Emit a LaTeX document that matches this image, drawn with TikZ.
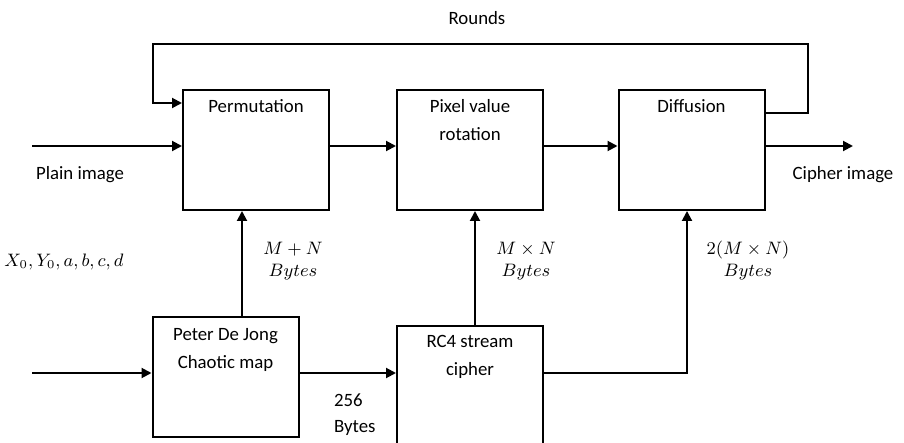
\documentclass[tikz,border=0pt]{standalone}
\usepackage{fontspec}
\setmainfont{Carlito}
\usepackage{tikz}
\usetikzlibrary{positioning}
\usetikzlibrary{arrows.meta,shapes}
\usetikzlibrary{calc}

\tikzset{
  blk/.style={draw,line width=1pt,minimum width=73pt,minimum height=60pt},
  blktxt/.style={anchor=north,yshift=-1.5pt,align=center,font=\fontsize{9.4}{14}\selectfont},
  arr/.style={line width=1pt,-{Triangle[length=5pt,width=5pt]}},
  txt/.style={font=\fontsize{9.4}{13}\selectfont},
  mtxt/.style={align=center,font=\fontsize{8.6}{11}\selectfont}
}

\begin{document}
\begin{tikzpicture}[x=0.5pt,y=-0.5pt]
\clip (0,0) rectangle (904,443);

%blocks of the cipher
\node[blk,label={[blktxt]north:Permutation}] (perm) at (256,150) {};
\node[blk,label={[blktxt]north:Pixel value\\rotation}] (pix) at (470,150) {};
\node[blk,label={[blktxt]north:Diffusion}] (diff) at (691.5,150) {};
%key generation
\node[blk,label={[blktxt,yshift=-1pt]north:Peter De Jong\\Chaotic map}] (jong) at (225.5,377) {};
\node[blk,label={[blktxt]north:RC4 stream\\cipher}] (rc4) at (470,386) {};

%main line
\coordinate (pin) at (32,146);
\coordinate (pout) at (853,146);
\draw[arr] (pin) -- (pin -| perm.west);
\draw[arr] ([yshift=2pt]perm.east) -- ([yshift=2pt]pix.west);
\draw[arr] ([yshift=2pt]pix.east) -- ([yshift=2pt]diff.west);
\draw[arr] ([yshift=2pt]diff.east) -- (pout);
\node[txt] (plain) at (80,175) {Plain image};
\node[txt] (cipher) at (843,175) {Cipher image};

%rounds loop
\coordinate (r1) at (808,44);
\coordinate (r2) at (153,44);
\draw[arr] ([yshift=18.5pt]diff.east) -| (r1) -- (r2) |- ([yshift=23.5pt]perm.west);
\node[txt] (rounds) at (477,18) {Rounds};

%keys
\coordinate (kin) at (32,373);
\draw[arr] (kin) -- (kin -| jong.west);
\node[font=\fontsize{8.8}{11}\selectfont] (init) at (64,262) {$X_0,Y_0,a,b,c,d$};

\coordinate (jtop) at ([xshift=8.25pt]jong.north);
\draw[arr] (jtop) -- (jtop |- perm.south);
\node[mtxt] (mn1) at (293,261) {$M+N$\\$Bytes$};

\coordinate (jright) at ([yshift=2pt]jong.east);
\draw[arr] (jright) -- (jright -| rc4.west);
\node[txt,align=left,anchor=west] (k256) at (327,415) {256\\Bytes};

\coordinate (rtop) at ([xshift=2.5pt]rc4.north);
\draw[arr] (rtop) -- (rtop |- pix.south);
\node[mtxt] (mn2) at (526,261) {$M\times N$\\$Bytes$};

\coordinate (rright) at ([yshift=6.5pt]rc4.east);
\coordinate (dbot) at ([xshift=-2.25pt]diff.south);
\draw[arr] (rright) -| (dbot);
\node[mtxt] (mn3) at (748,261) {$2(M\times N)$\\$Bytes$};
\end{tikzpicture}
\end{document}
